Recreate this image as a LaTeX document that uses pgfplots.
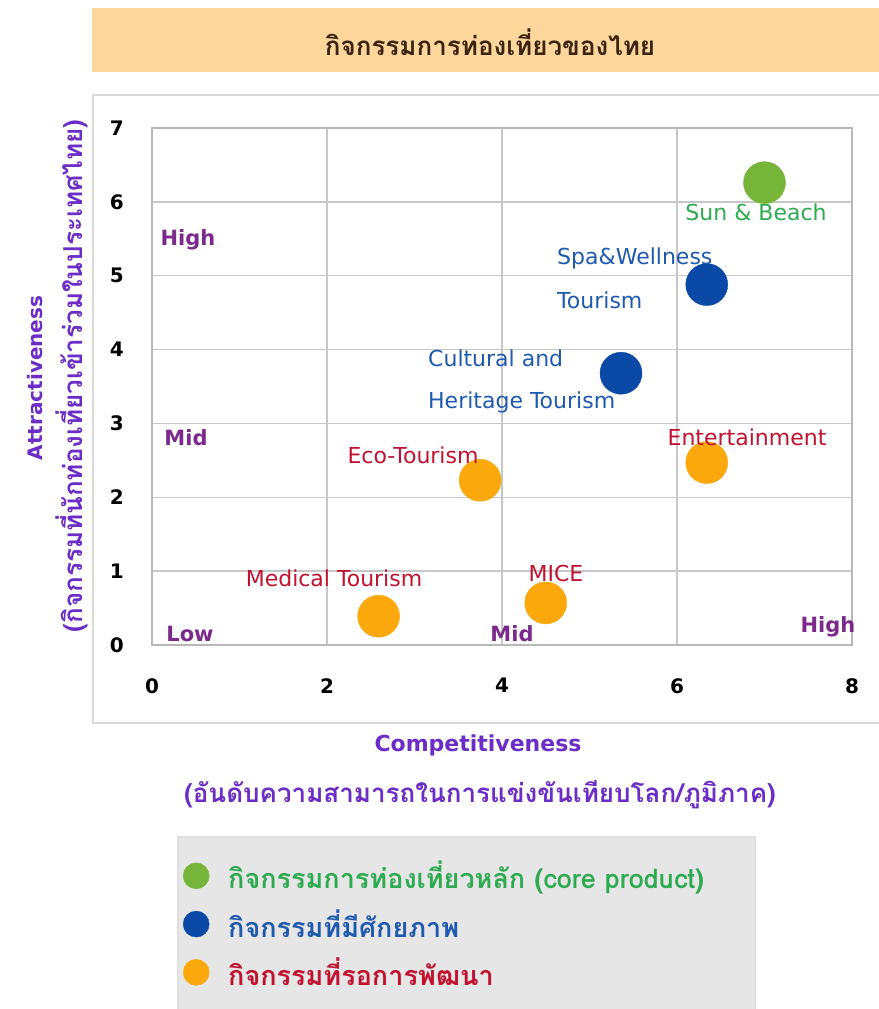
\documentclass[border=0pt]{standalone}
\usepackage{pgfplots}
\pgfplotsset{compat=1.18}
\usepackage{fontspec}
\setmainfont{DejaVu Sans}
\newfontfamily\thai[Script=Thai]{Loma}
\definecolor{titlebg}{HTML}{FDD69B}
\definecolor{titletext}{HTML}{3B2412}
\definecolor{legbg}{HTML}{E6E6E6}
\definecolor{cgreen}{HTML}{76B43A}
\definecolor{cblue}{HTML}{0A4AA6}
\definecolor{corange}{HTML}{FBA80C}
\definecolor{tgreen}{HTML}{2EAA50}
\definecolor{tblue}{HTML}{1E5AAF}
\definecolor{tred}{HTML}{C1122F}
\definecolor{tpurple}{HTML}{7B2A8C}
\definecolor{tviolet}{HTML}{6C2DC7}
\begin{document}
\begin{tikzpicture}
\useasboundingbox (0pt,0pt) rectangle (878pt,-1009pt);
\fill[titlebg] (92pt,-8pt) rectangle (885pt,-72pt);
\node[font=\thai\bfseries\fontsize{26}{30}\selectfont, text=titletext] at (490pt,-42pt) {กิจกรรมการท่องเที่ยวของไทย};
\draw[black!15, line width=2pt] (93pt,-95pt) rectangle (895pt,-723pt);
\fill[legbg] (178pt,-837pt) rectangle (755pt,-1020pt);
\draw[black!12, line width=1.5pt] (178pt,-1020pt) -- (178pt,-837pt) -- (755pt,-837pt) -- (755pt,-1020pt);
\begin{axis}[
  at={(152pt,-645pt)}, anchor=south west,
  scale only axis, width=700pt, height=517pt,
  xmin=0, xmax=8, ymin=0, ymax=7,
  xtick={0,2,4,6,8}, ytick={0,1,2,3,4,5,6,7},
  grid=major, major grid style={black!22, line width=1.5pt},
  axis line style={black!28, line width=1.5pt},
  major tick length=0pt,
  /pgf/number format/assume math mode=true,
  ticklabel style={font=\bfseries\fontsize{20}{23}\selectfont},
  yticklabel style={inner sep=0pt, xshift=-28pt},
  xticklabel style={inner sep=0pt, yshift=-33pt},
  clip=false,
  legend style={at={(axis description cs:0.04,-0.41)}, anchor=north west,
    draw=none, fill=none, row sep=15pt, column sep=17pt,
    font=\thai\bfseries\fontsize{27}{30}\selectfont},
  legend cell align=left,
]
\addplot[only marks, mark=*, mark size=21pt, color=cgreen, mark options={draw=cgreen, fill=cgreen}, legend image post style={mark size=13pt}]
  coordinates {(7.0,6.26)};
\addlegendentry{\textcolor{tgreen}{กิจกรรมการท่องเที่ยวหลัก (core product)}}
\addplot[only marks, mark=*, mark size=21pt, color=cblue, mark options={draw=cblue, fill=cblue}, legend image post style={mark size=13pt}]
  coordinates {(6.34,4.88) (5.36,3.68)};
\addlegendentry{\textcolor{tblue}{กิจกรรมที่มีศักยภาพ}}
\addplot[only marks, mark=*, mark size=21pt, color=corange, mark options={draw=corange, fill=corange}, legend image post style={mark size=13pt}]
  coordinates {(6.34,2.47) (3.75,2.23) (4.5,0.57) (2.59,0.39)};
\addlegendentry{\textcolor{tred}{กิจกรรมที่รอการพัฒนา}}
\end{axis}
% quadrant annotations
\begin{scope}[every node/.style={font=\bfseries\fontsize{21}{24}\selectfont, text=tpurple, inner sep=0pt}]
\node at (188pt,-240pt) {High};
\node at (186pt,-438pt) {Mid};
\node at (190pt,-634pt) {Low};
\node at (512pt,-634pt) {Mid};
\node at (828pt,-627pt) {High};
\end{scope}
% point labels
\begin{scope}[every node/.style={font=\fontsize{22}{26}\selectfont, inner sep=0pt}]
\node[text=tgreen] at (756pt,-212pt) {Sun \& Beach};
\node[text=tblue, anchor=west] at (557pt,-258pt) {Spa\&Wellness};
\node[text=tblue, anchor=west] at (557pt,-300pt) {Tourism};
\node[text=tblue, anchor=west] at (428pt,-358pt) {Cultural and};
\node[text=tblue, anchor=west] at (428pt,-402pt) {Heritage Tourism};
\node[text=tred] at (747pt,-437pt) {Entertainment};
\node[text=tred] at (413pt,-455pt) {Eco-Tourism};
\node[text=tred] at (334pt,-578pt) {Medical Tourism};
\node[text=tred] at (556pt,-573pt) {MICE};
\end{scope}
% axis titles
\node[rotate=90, font=\bfseries\fontsize{20}{24}\selectfont, text=tviolet] at (35pt,-378pt) {Attractiveness};
\node[rotate=90, font=\thai\bfseries\fontsize{26}{30}\selectfont, text=tviolet] at (72pt,-376pt) {(กิจกรรมที่นักท่องเที่ยวเข้าร่วมในประเทศไทย)};
\node[font=\bfseries\fontsize{22}{26}\selectfont, text=tviolet] at (478pt,-745pt) {Competitiveness};
\node[font=\thai\bfseries\fontsize{26}{30}\selectfont, text=tviolet] at (480pt,-795pt) {(อันดับความสามารถในการแข่งขันเทียบโลก/ภูมิภาค)};
\end{tikzpicture}
\end{document}
